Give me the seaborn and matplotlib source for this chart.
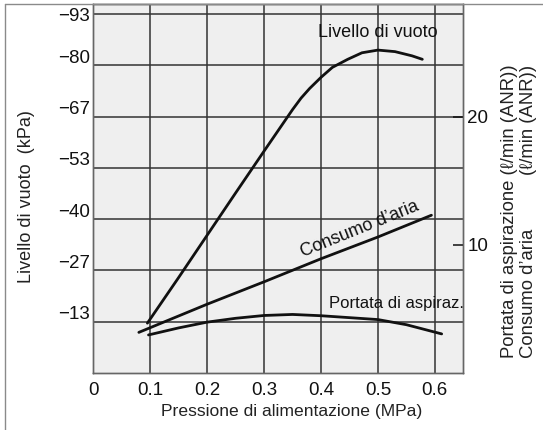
import matplotlib
matplotlib.use("Agg")
import matplotlib.pyplot as plt
import matplotlib.transforms as mtransforms
from matplotlib.lines import Line2D
import seaborn as sns
import pandas as pd

# ---------------- data ----------------
x_ticks = [0, 0.1, 0.2, 0.3, 0.4, 0.5, 0.6]
x_tick_labels = ["0", "0.1", "0.2", "0.3", "0.4", "0.5", "0.6"]
vac_ticks = [-93.33, -80.0, -66.67, -53.33, -40.0, -26.67, -13.33]
vac_tick_labels = ["\u221293", "\u221280", "\u221267", "\u221253", "\u221240", "\u221227", "\u221213"]
flow_ticks = [10, 20]
flow_tick_labels = ["10", "20"]

# Livello di vuoto (kPa) vs supply pressure (MPa)
p_vuoto = [0.095, 0.15, 0.20, 0.25, 0.30, 0.35, 0.365, 0.38, 0.40, 0.42, 0.447, 0.472, 0.50, 0.53, 0.56, 0.578]
vuoto = [-12.9, -24.8, -35.8, -46.8, -57.7, -68.5, -71.5, -74.0, -76.9, -79.5, -81.6, -83.3, -84.0, -83.6, -82.5, -81.6]

# Consumo d'aria (l/min ANR)
p_consumo = [0.08, 0.20, 0.30, 0.40, 0.50, 0.594]
consumo = [3.15, 5.35, 7.1, 8.9, 10.6, 12.3]

# Portata di aspirazione (l/min ANR)
p_portata = [0.097, 0.15, 0.20, 0.25, 0.30, 0.35, 0.40, 0.45, 0.50, 0.55, 0.612]
portata = [2.95, 3.5, 3.95, 4.25, 4.47, 4.55, 4.45, 4.3, 4.15, 3.75, 3.03]

# ---------------- style ----------------
sns.set_style("white")
plt.rcParams["font.family"] = ["Liberation Sans", "DejaVu Sans"]
plt.rcParams["axes.unicode_minus"] = True

W, H = 543, 430
fig = plt.figure(figsize=(W / 100, H / 100), dpi=100)
ax = fig.add_axes([93.3 / W, 1 - 372.7 / H, (463.3 - 93.3) / W, (372.7 - 4) / H])
ax.set_facecolor("#efefef")

grid_c = "#333333"
ink = "#111111"
lab_c = "#222222"

df_v = pd.DataFrame({"p": p_vuoto, "v": vuoto})
sns.lineplot(data=df_v, x="p", y="v", ax=ax, color=ink, lw=2.0, sort=False)

ax.set_xlim(0.0, 0.65)
ax.set_ylim(0, -96)
ax.set_xticks(x_ticks)
ax.set_xticklabels(x_tick_labels)
ax.set_yticks(vac_ticks)
ax.set_yticklabels(vac_tick_labels)
ax.grid(True, color=grid_c, lw=1.1)
ax.set_axisbelow(True)
ax.tick_params(axis="both", length=0, labelsize=13.5, colors=ink)
ax.tick_params(axis="y", pad=2.5)
ax.tick_params(axis="x", pad=7)
ax.set_xlabel("")
ax.set_ylabel("")
for s in ax.spines.values():
    s.set_color("#666666")
    s.set_linewidth(1.0)

# left tick labels sit slightly above their grid lines
off = mtransforms.ScaledTranslation(0, 9 / 100, fig.dpi_scale_trans)
for lab in ax.get_yticklabels()[1:]:
    lab.set_transform(lab.get_transform() + off)

ax2 = ax.twinx()
df_c = pd.DataFrame({"p": p_consumo, "q": consumo})
df_a = pd.DataFrame({"p": p_portata, "q": portata})
sns.lineplot(data=df_c, x="p", y="q", ax=ax2, color=ink, lw=2.0, sort=False)
sns.lineplot(data=df_a, x="p", y="q", ax=ax2, color=ink, lw=2.0, sort=False)
ax2.set_ylim(0, 28.8)
ax2.set_yticks(flow_ticks)
ax2.set_yticklabels(flow_tick_labels)
ax2.tick_params(axis="y", direction="in", length=7, width=1.1, color=ink,
                labelsize=13.5, labelcolor=ink, pad=3)
ax2.set_ylabel("")
ax2.set_xlabel("")
for s in ax2.spines.values():
    s.set_color("#666666")
    s.set_linewidth(1.0)

# curve annotations
ax.text(0.50, -88.5, "Livello di vuoto", ha="center", va="center", fontsize=13, color=ink)
ax2.text(0.468, 11.2, "Consumo d\u2019aria", ha="center", va="center", fontsize=13,
         rotation=22, rotation_mode="anchor", color=ink)
ax2.text(0.533, 5.4, "Portata di aspiraz.", ha="center", va="center", fontsize=12, color=ink)

# axis titles
fig.text(292 / W, 1 - 411.7 / H, "Pressione di alimentazione (MPa)", ha="center", va="center",
         fontsize=12.6, color=lab_c)
fig.text(26.7 / W, 1 - 196.5 / H, "Livello di vuoto  (kPa)", ha="center", va="center",
         rotation=90, fontsize=13, color=lab_c)
fig.text(510 / W, 1 - 358 / H, "Portata di aspirazione (\u2113/min (ANR))", ha="center", va="bottom",
         rotation=90, fontsize=13.3, color=lab_c)
fig.text(528.3 / W, 1 - 358 / H, "Consumo d\u2019aria", ha="center", va="bottom",
         rotation=90, fontsize=13.3, color=lab_c)
fig.text(528.3 / W, 1 - 65 / H, "(\u2113/min (ANR))", ha="center", va="top",
         rotation=90, fontsize=13.3, color=lab_c)

# outer frame lines (top and left)
fig.add_artist(Line2D([5 / W, 1], [1 - 3.5 / H, 1 - 3.5 / H], transform=fig.transFigure,
                      color="#8a8a8a", lw=1.0))
fig.add_artist(Line2D([5 / W, 5 / W], [0, 1 - 3.5 / H], transform=fig.transFigure,
                      color="#8a8a8a", lw=1.0))

fig.savefig("out.png", dpi=100)
